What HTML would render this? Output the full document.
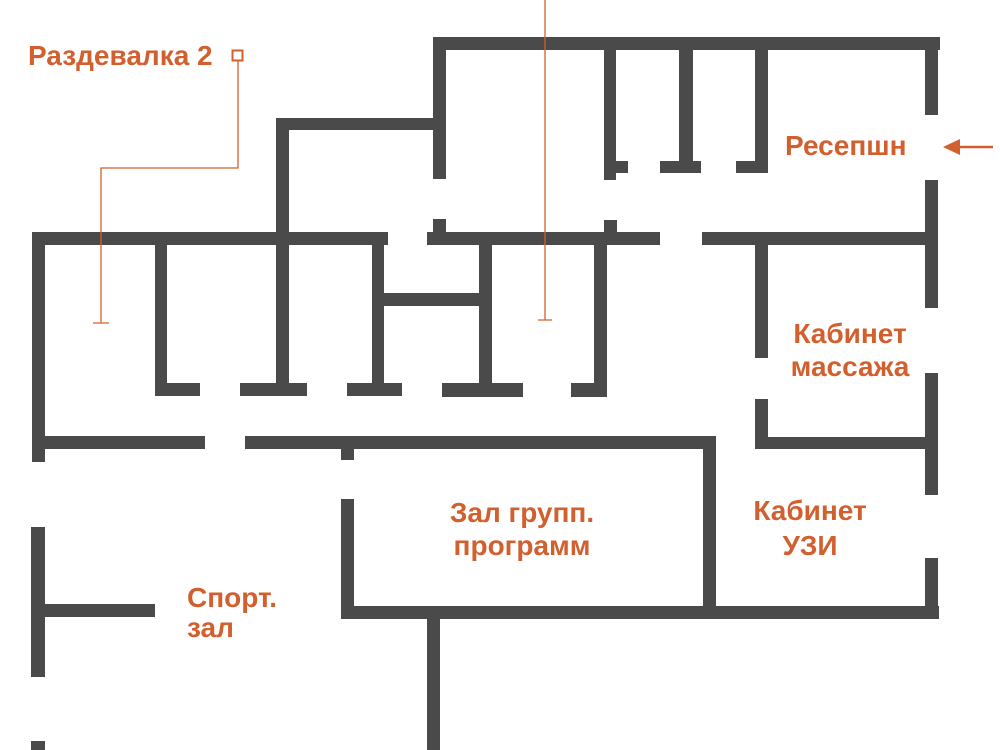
<!DOCTYPE html>
<html><head><meta charset="utf-8"><style>
html,body{margin:0;padding:0;background:#fff;width:1000px;height:750px;overflow:hidden}
svg{display:block}
text{font-family:"Liberation Sans",sans-serif;font-weight:bold;fill:#d2602f}
</style></head><body>
<svg width="1000" height="750" viewBox="0 0 1000 750" xmlns="http://www.w3.org/2000/svg">
<g fill="#4a4a4a">
<rect x="32" y="232" width="356" height="13"/>
<rect x="32" y="232" width="13" height="230"/>
<rect x="45" y="436" width="160" height="13"/>
<rect x="245" y="436" width="471" height="13"/>
<rect x="341" y="449" width="13" height="11"/>
<rect x="155" y="245" width="12" height="150"/>
<rect x="155" y="383" width="45" height="13"/>
<rect x="276" y="118" width="13" height="277"/>
<rect x="240" y="383" width="67" height="13"/>
<rect x="276" y="118" width="164" height="12"/>
<rect x="372" y="245" width="12" height="150"/>
<rect x="347" y="383" width="55" height="13"/>
<rect x="384" y="293" width="95" height="13"/>
<rect x="433" y="37" width="507" height="13"/>
<rect x="433" y="37" width="13" height="142"/>
<rect x="604" y="50" width="12" height="130"/>
<rect x="616" y="161" width="12" height="12"/>
<rect x="679" y="50" width="14" height="123"/>
<rect x="660" y="161" width="41" height="12"/>
<rect x="755" y="50" width="13" height="123"/>
<rect x="736" y="161" width="32" height="12"/>
<rect x="925" y="37" width="13" height="78"/>
<rect x="925" y="180" width="13" height="128"/>
<rect x="427" y="232" width="233" height="13"/>
<rect x="433" y="219" width="13" height="13"/>
<rect x="604" y="220" width="13" height="12"/>
<rect x="702" y="232" width="236" height="13"/>
<rect x="479" y="245" width="13" height="150"/>
<rect x="442" y="383" width="81" height="14"/>
<rect x="594" y="245" width="13" height="150"/>
<rect x="571" y="383" width="36" height="14"/>
<rect x="755" y="245" width="13" height="113"/>
<rect x="755" y="399" width="13" height="50"/>
<rect x="755" y="437" width="183" height="12"/>
<rect x="925" y="373" width="13" height="122"/>
<rect x="703" y="437" width="13" height="170"/>
<rect x="341" y="499" width="13" height="120"/>
<rect x="341" y="606" width="598" height="13"/>
<rect x="925" y="558" width="13" height="61"/>
<rect x="427" y="619" width="13" height="131"/>
<rect x="31" y="527" width="14" height="150"/>
<rect x="45" y="604" width="110" height="13"/>
<rect x="31" y="741" width="14" height="9"/>
</g>
<g stroke="#d2602f" stroke-width="1.3" fill="none">
<path d="M545 0V320M538 320H552"/>
<rect x="232.5" y="50.5" width="10" height="10" stroke-width="2"/>
<path d="M238 61V168H101V323M93 323H109"/>
<path d="M993 147H955" stroke-width="2.5"/>
</g>
<path d="M943 147L960 139L960 155Z" fill="#d2602f"/>
<text x="28" y="65" font-size="28">Раздевалка 2</text>
<text x="785" y="155" font-size="28">Ресепшн</text>
<text x="850" y="343" font-size="28" text-anchor="middle">Кабинет</text>
<text x="850" y="376" font-size="28" text-anchor="middle">массажа</text>
<text x="522" y="522" font-size="28" text-anchor="middle">Зал групп.</text>
<text x="522" y="555" font-size="28" text-anchor="middle">программ</text>
<text x="810" y="520" font-size="28" text-anchor="middle">Кабинет</text>
<text x="810" y="555" font-size="28" text-anchor="middle">УЗИ</text>
<text x="187" y="607" font-size="28">Спорт.</text>
<text x="187" y="637" font-size="28">зал</text>
</svg>
</body></html>
